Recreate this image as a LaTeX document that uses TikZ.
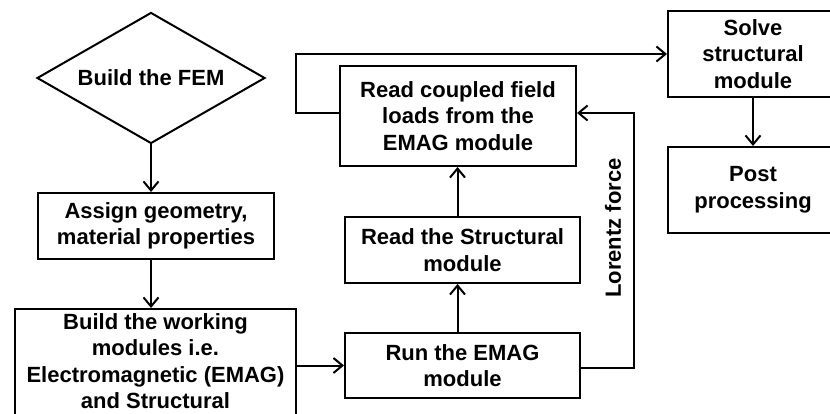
\documentclass[tikz,border=0pt]{standalone}
\usepackage{fontspec}
\setmainfont{Liberation Sans}
\usetikzlibrary{arrows.meta,shapes.geometric}
\begin{document}
\begin{tikzpicture}[x=1pt,y=-1pt,line width=2pt,
  txt/.style={inner sep=0pt,align=center,font=\fontsize{22}{26.5}\selectfont\bfseries},
  box/.style={txt,draw,rectangle},
  dia/.style={txt,draw,diamond,aspect=1.74},
  arr/.style={-{Straight Barb[length=9pt,width=15pt]}}]
\clip (0,0) rectangle (830,414);
\node[dia,minimum width=228pt,minimum height=131pt] (fem) at (151,78) {Build the FEM};
\node[box,minimum width=236pt,minimum height=66pt] (assign) at (156,226) {Assign geometry,\\material properties};
\node[box,minimum width=281pt,minimum height=111pt] (build) at (155.5,364.5) {Build the working\\modules i.e.\\Electromagnetic (EMAG)\\and Structural\rule[-7pt]{0pt}{7pt}};
\node[box,minimum width=235pt,minimum height=65pt] (run) at (462.5,365.5) {Run the EMAG\\module};
\node[box,minimum width=235pt,minimum height=66pt] (rs) at (462.5,250) {Read the Structural\\module};
\node[box,minimum width=236pt,minimum height=100pt] (rc) at (458,116) {Read coupled field\\loads from the\\EMAG module};
\node[box,minimum width=170pt,minimum height=86pt] (solve) at (753,54) {Solve\\structural\\module};
\node[box,minimum width=170pt,minimum height=86pt] (post) at (753,190) {Post\\processing};
\node[txt,rotate=90] (lf) at (613,228) {Lorentz force};
\coordinate (lr) at (634,0);
\coordinate (ll) at (296,0);
\draw[arr] (fem.south) -- (fem.south |- assign.north);
\draw[arr] (assign.south -| fem.south) -- (fem.south |- build.north);
\draw[arr] (build.east |- run.west) -- (run.west);
\draw[arr] ([xshift=-5pt]run.north) -- ([xshift=-5pt]run.north |- rs.south);
\draw[arr] ([xshift=-5pt]rs.north) -- ([xshift=-5pt]rs.north |- rc.south);
\draw[arr] ([yshift=-2.5pt]run.east) -- ([yshift=-2.5pt]run.east -| lr) |- ([yshift=3pt]rc.east);
\draw[arr] ([yshift=3pt]rc.west) -- ([yshift=3pt]rc.west -| ll) |- (solve.west);
\draw[arr] (solve.south) -- (post.north);
\end{tikzpicture}
\end{document}
